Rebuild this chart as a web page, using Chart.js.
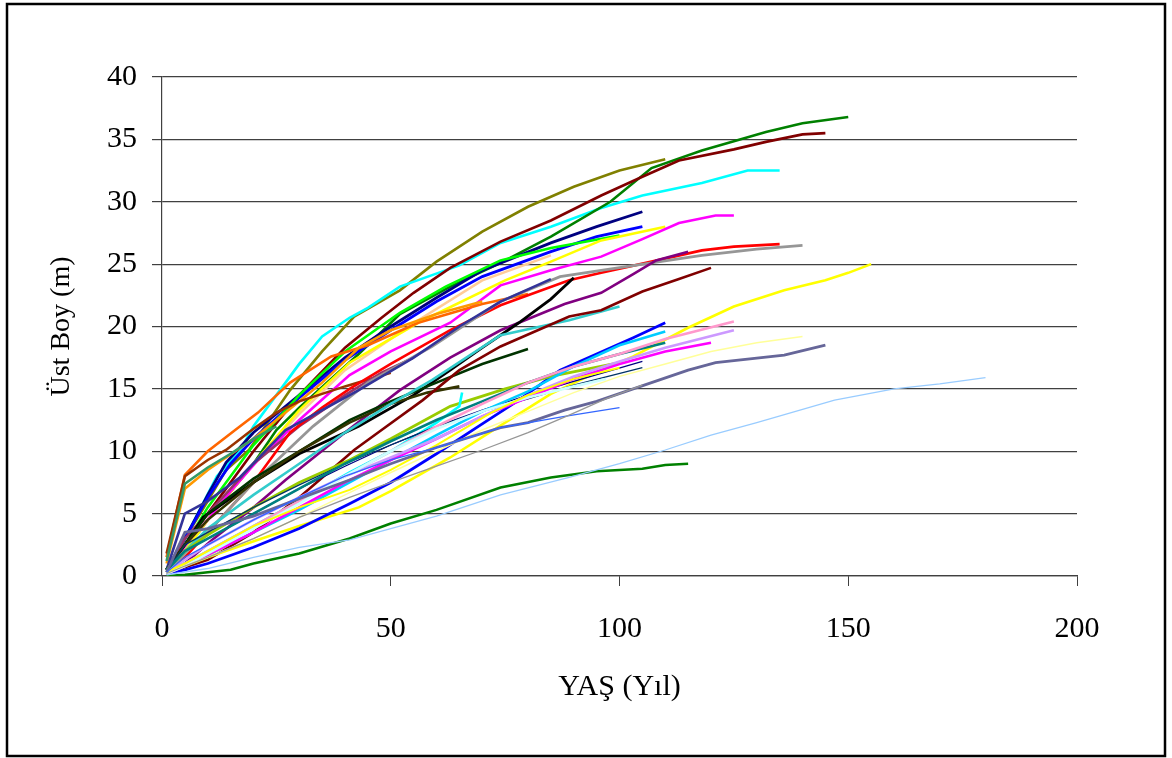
<!DOCTYPE html>
<html>
<head>
<meta charset="utf-8">
<script src="https://cdn.jsdelivr.net/npm/chart.js@4/dist/chart.umd.min.js"></script>
<style>
html,body{margin:0;padding:0;background:#fff;}
canvas{display:block;}
</style>
</head>
<body>
<canvas id="c" width="1172" height="758"></canvas>
<script>
// Axis ticks
const xTicks = [0, 50, 100, 150, 200];
const yTicks = [0, 5, 10, 15, 20, 25, 30, 35, 40];
const xTitle = "YAŞ (Yıl)";
const yTitle = "Üst Boy (m)";

// Series values: [age (yıl), üst boy (m)]
const sOlive    = [[1,0.5],[5,3],[10,6],[14,8.5],[19,10.1],[28,14.9],[35,18],[42,20.8],[52,22.9],[60,25.2],[70,27.6],[80,29.6],[90,31.2],[100,32.5],[110,33.4]];
const sCyan     = [[1,0.3],[6,3.7],[12,8],[17,10],[20,12],[25,14.5],[30,17],[35,19.2],[41,20.7],[45,21.5],[52,23.2],[65,24.9],[74,26.7],[85,28],[96,29.5],[105,30.5],[118,31.5],[128,32.5],[135,32.5]];
const sGreen    = [[1,0.5],[5,2],[10,4.5],[20,9],[25,11.7],[30,13.5],[43,17.8],[52,21],[63,23.2],[74,25.1],[85,27.2],[98,30],[107,32.7],[118,34.1],[132,35.6],[140,36.3],[150,36.8]];
const sMaroon   = [[1,0.5],[5,2.5],[10,5],[20,10],[30,14.5],[40,18.3],[48,20.7],[55,22.7],[63,24.7],[74,26.8],[85,28.5],[96,30.5],[105,32],[113,33.3],[125,34.2],[132,34.8],[140,35.4],[145,35.5]];
const sNavy     = [[1,0.5],[5,3],[10,6.5],[14,9.1],[20,11.5],[30,14.5],[40,17.5],[50,20],[60,22.3],[70,24.5],[85,26.7],[95,28],[105,29.2]];
const sBlue     = [[1,0.5],[5,3],[10,6.3],[15,9],[20,11],[30,14.3],[40,17.3],[50,19.7],[60,22],[70,24],[85,26],[95,27.2],[105,28]];
const sLime     = [[1,0.5],[5,2.5],[10,5.5],[20,10.5],[30,14.5],[40,18],[52,21.1],[62,23.2],[74,25.3],[85,26.3],[100,27.3]];
const sPeach    = [[1,0.4],[5,2],[10,4.5],[20,9],[30,13],[40,16.5],[50,19],[56,20.5],[70,23.7],[85,25.7]];
const sYellow   = [[1,0.3],[5,2],[10,4.5],[20,9],[30,13.3],[41,17.1],[56,20.3],[75,23.7],[85,25.2],[96,26.9],[110,28]];
const sMagenta  = [[1,0.3],[6,2.9],[10,4.5],[15,6.8],[21,9.3],[30,12.5],[41,16.1],[50,18],[63,20.3],[74,23.3],[85,24.5],[96,25.6],[105,27],[113,28.3],[121,28.9],[125,28.9]];
const sOrange   = [[1,1.5],[5,8.1],[10,10],[16,11.7],[21,13.1],[28,15.5],[37,17.6],[45,18.5],[56,20.3],[70,21.8],[80,22.6]];
const sGold     = [[1,1],[5,7],[10,8.5],[20,11],[25,12.5],[35,15.5],[43,18.3],[50,19.7],[60,21],[70,22]];
const sBrown    = [[1,1.8],[5,8],[10,9.3],[14,10.1],[20,11.8],[25,13.1],[30,14],[40,15.2],[50,16.3]];
const sSeaGreen = [[1,1.2],[5,7.4],[10,8.7],[15,9.8],[20,11],[25,12]];
const sPlum     = [[1,0.5],[5,3],[10,5],[20,9],[30,12],[40,14.5],[48,16.3],[55,17.5]];
const sRed      = [[1,0.3],[5,1.5],[10,3.5],[20,7.5],[28,11.5],[35,13.5],[41,15],[50,17],[63,19.7],[74,21.7],[89,23.7],[96,24.3],[107,25.2],[118,26.1],[125,26.4],[135,26.6]];
const sGray     = [[1,0.3],[5,1.8],[10,3.5],[20,7.5],[33,12],[45,15.5],[59,18.4],[74,22],[87,24],[96,24.5],[118,25.7],[130,26.2],[140,26.5]];
const sSlate    = [[1,0.5],[5,5],[10,6],[17,7.9],[27,11.7],[43,14.9],[55,17.5],[65,20],[74,22],[85,23.8]];
const sPurple   = [[1,0.3],[5,1],[11,2.9],[20,5.5],[27,7.7],[40,11.5],[52,14.9],[63,17.5],[74,19.7],[88,21.8],[96,22.7],[103,24.2],[108,25.3],[115,26]];
const sBlack    = [[1,0.5],[5,2.5],[9,4.7],[20,7.5],[30,9.8],[43,12],[55,14.5],[63,16.5],[70,18.3],[78,20.3],[85,22.2],[90,23.9]];
const sDkGreen  = [[1,0.5],[5,2.5],[10,5],[20,7.8],[30,10],[41,12.5],[50,14],[60,15.5],[70,17],[80,18.2]];
const sDkOlive  = [[1,0.5],[5,2.5],[10,4.5],[20,7.5],[30,10],[41,12.3],[50,13.8],[58,14.7],[65,15.2]];
const sTurq     = [[1,0.4],[5,2],[10,3.8],[20,6.5],[28,8.5],[40,11.5],[50,13.8],[59,15.7],[74,19.3],[89,20.5],[100,21.6]];
const sMaroon2  = [[1,0.3],[5,0.7],[10,1.3],[20,3.5],[30,6.3],[42,10.1],[48,11.7],[57,14.1],[65,16.5],[74,18.4],[89,20.8],[96,21.3],[105,22.8],[113,23.8],[120,24.7]];
const sBlue2    = [[1,0.2],[5,0.5],[10,1],[20,2.3],[30,3.8],[41,5.8],[50,7.5],[60,9.8],[70,12.2],[78,14.1],[87,16.5],[95,17.8],[103,19.1],[110,20.3]];
const sSky      = [[1,0.2],[5,0.8],[10,1.7],[20,3.5],[30,5.3],[40,7.3],[50,9.3],[60,11.3],[70,13.2],[80,14.8],[90,16.8],[100,18.5],[110,19.6]];
const sPink     = [[1,0.3],[5,1],[10,2],[20,4],[30,6],[40,8],[50,10],[60,12],[70,13.8],[80,15.5],[90,16.8],[100,17.8],[110,19],[125,20.4]];
const sLavender = [[1,0.3],[5,1.3],[10,2.5],[20,4.5],[30,6.3],[40,8],[50,9.5],[60,11],[70,12.8],[80,14.5],[90,16],[100,17.2],[110,18.3],[125,19.7]];
const sTeal     = [[1,0.5],[5,2],[10,3],[20,5],[30,7],[40,9],[50,10.8],[60,12.5],[70,14],[80,15.5],[90,16.8],[100,17.8],[110,18.7]];
const sMagenta2 = [[1,0.2],[5,0.8],[10,1.7],[20,3.5],[30,5.5],[40,7.5],[50,9.3],[60,11],[70,12.8],[80,14.3],[90,15.8],[100,17],[110,18],[120,18.7]];
const sLtYellow = [[1,0.2],[5,0.8],[10,1.5],[20,3],[30,4.7],[40,6.5],[50,8.3],[60,10],[70,11.7],[80,13.2],[90,14.7],[100,16],[110,17],[120,18],[130,18.7],[140,19.2]];
const sYellow2  = [[1,0.2],[5,0.8],[10,1.5],[21,2.9],[30,4],[43,5.5],[50,6.8],[63,9.5],[75,12.3],[85,14.6],[96,16.5],[103,17.6],[115,19.9],[125,21.6],[136,22.9],[145,23.7],[150,24.3],[155,25]];
const sSlate2   = [[1,0.3],[5,3.5],[10,3.8],[20,4.8],[30,6.2],[41,7.7],[50,9],[60,10.3],[74,11.9],[80,12.3],[88,13.3],[95,14],[107,15.5],[115,16.5],[121,17.1],[136,17.7],[145,18.5]];
const sNavyThin = [[1,0.4],[5,2],[10,3],[20,5],[30,7],[40,8.8],[50,10.5],[60,12],[70,13.3],[80,14.5],[90,15.6],[105,17.2]];
const sDkBlueTh = [[1,0.4],[5,2.5],[10,3.5],[20,5.5],[30,7.3],[40,9],[50,10.5],[60,12],[70,13.2],[80,14.2],[90,15.3],[105,16.7]];
const sYlwGreen = [[1,0.5],[5,2],[10,3.3],[20,5.5],[30,7.5],[41,9.3],[50,11],[63,13.6],[75,15],[85,16],[100,17.1]];
const sBlueThin = [[1,0.3],[5,1.5],[10,2.5],[20,4.5],[30,6.3],[40,8],[50,9.3],[60,10.3],[74,11.9],[88,12.8],[100,13.5]];
const sGrayThin = [[1,0.2],[5,0.8],[10,1.5],[20,3],[30,4.7],[41,6.3],[50,7.5],[60,8.8],[70,10.1],[80,11.5],[89,12.9],[97,14.2],[105,15.3]];
const sLtBlue   = [[1,0.1],[10,0.6],[20,1.5],[30,2.3],[41,2.9],[50,3.8],[60,4.8],[74,6.5],[89,7.9],[100,9],[110,10.1],[120,11.3],[130,12.3],[147,14.1],[160,15],[170,15.4],[180,15.9]];
const sGreen3   = [[1,0],[5,0.1],[10,0.3],[15,0.5],[20,1],[30,1.8],[41,3],[50,4.2],[60,5.3],[74,7.1],[85,7.9],[95,8.4],[105,8.6],[110,8.9],[115,9]];
const sCyan2    = [[1,0.3],[5,1],[10,2],[20,4],[30,6],[41,8.3],[50,10],[60,12.3],[65,13.6],[65.6,14.7]];
const sLtCyan   = [[1,0.2],[5,0.8],[10,1.8],[20,3.8],[30,5.8],[40,8],[50,10],[60,11.8],[70,13.2],[80,14.3],[90,15.2],[97,15.8]];
const sYellow3  = [[1,0.3],[5,1],[10,2],[20,4],[30,5.5],[41,6.9],[50,8.5],[60,10.5],[72,13.1],[80,14.5],[90,15.8],[100,16.7]];

const seriesList = [
  [sLtBlue,'#99CCFF',1.3],[sGreen3,'#008000',2.6],[sGrayThin,'#969696',1.3],[sBlueThin,'#3366FF',1.3],
  [sSlate2,'#666699',2.8],[sLtYellow,'#FFFF99',1.5],[sYellow3,'#FFFF00',2],[sLtCyan,'#CCFFFF',2.6],
  [sLavender,'#CC99FF',2.6],[sMagenta2,'#FF00FF',2.6],[sPink,'#FF99CC',2.6],[sSky,'#00CCFF',2.6],
  [sTeal,'#008080',2.6],[sDkBlueTh,'#003366',1.3],[sNavyThin,'#000080',1.3],[sCyan2,'#00FFFF',2.6],
  [sYlwGreen,'#99CC00',2.8],[sBlue2,'#0000FF',2.8],[sYellow2,'#FFFF00',2.6],
  [sMaroon2,'#800000',2.6],[sTurq,'#33CCCC',2.6],[sDkOlive,'#333300',2.6],[sDkGreen,'#003300',2.6],
  [sBlack,'#000000',2.8],[sPurple,'#800080',2.6],[sSlate,'#333399',2.6],[sGray,'#969696',2.8],
  [sRed,'#FF0000',2.6],[sPlum,'#993366',2.6],[sSeaGreen,'#339966',2.6],[sBrown,'#993300',2.6],
  [sGold,'#FF9900',2.6],[sOrange,'#FF6600',2.6],[sMagenta,'#FF00FF',2.6],[sYellow,'#FFFF00',2.6],
  [sPeach,'#FFCC99',2.6],[sLime,'#00FF00',2.6],[sBlue,'#0000FF',2.8],[sNavy,'#000080',2.8],
  [sMaroon,'#800000',2.6],[sGreen,'#008000',2.6],[sCyan,'#00FFFF',2.6],[sOlive,'#808000',2.6]
];

const datasets = seriesList.map(([pts, color, w]) => ({
  data: pts.map(p => ({x: p[0], y: p[1]})),
  borderColor: color,
  backgroundColor: color,
  borderWidth: w,
  pointRadius: 0,
  tension: 0,
  fill: false
}));

const frame = {
  id: 'frame',
  beforeDraw(chart) {
    const c = chart.ctx;
    c.save();
    c.fillStyle = '#fff';
    c.fillRect(0, 0, chart.width, chart.height);
    c.restore();
  },
  afterDraw(chart) {
    const c = chart.ctx;
    c.save();
    c.strokeStyle = '#000';
    c.lineWidth = 2.5;
    c.strokeRect(7, 4, 1158, 752);
    c.restore();
  }
};

const FONT = 'Liberation Serif';
new Chart(document.getElementById('c'), {
  type: 'line',
  data: { datasets },
  plugins: [frame],
  options: {
    responsive: false,
    devicePixelRatio: 1,
    animation: false,
    events: [],
    layout: { padding: { top: 77, right: 95, left: 0, bottom: 0 } },
    plugins: { legend: { display: false }, tooltip: { enabled: false } },
    scales: {
      x: {
        type: 'linear', min: 0, max: 200,
        afterBuildTicks: s => { s.ticks = xTicks.map(v => ({value: v})); },
        afterFit: s => { s.height = 758 - 576; },
        ticks: { color: '#000', padding: 25, maxRotation: 0, font: { family: FONT, size: 30 } },
        grid: { drawOnChartArea: false, drawTicks: true, tickLength: 10, color: '#404040', lineWidth: 1 },
        border: { display: true, color: '#404040', width: 1.2 },
        title: { display: true, text: xTitle, color: '#000', font: { family: FONT, size: 30 }, padding: { top: 0, bottom: 53 } }
      },
      y: {
        type: 'linear', min: 0, max: 40,
        afterBuildTicks: s => { s.ticks = yTicks.map(v => ({value: v})); },
        afterFit: s => { s.width = 162; },
        ticks: { color: '#000', padding: 15, font: { family: FONT, size: 30 } },
        grid: { drawOnChartArea: true, drawTicks: true, tickLength: 10, color: '#404040', lineWidth: 1.2 },
        border: { display: true, color: '#404040', width: 1.2 },
        title: { display: true, text: yTitle, color: '#000', font: { family: FONT, size: 28 }, padding: { top: 45, bottom: 0 } }
      }
    }
  }
});
</script>
</body>
</html>
